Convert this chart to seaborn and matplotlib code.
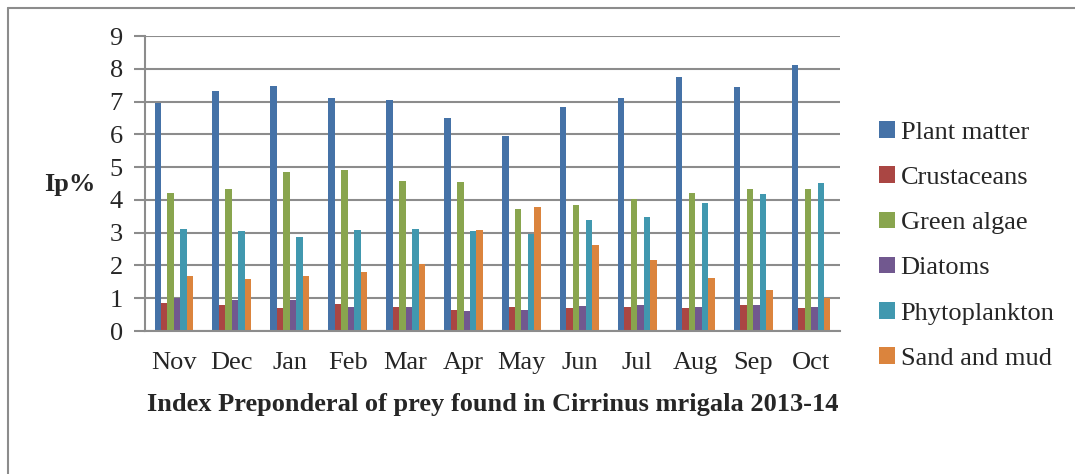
import matplotlib
matplotlib.use("Agg")
import matplotlib.pyplot as plt
import matplotlib.lines as mlines
import seaborn as sns
import pandas as pd

months = ["Nov", "Dec", "Jan", "Feb", "Mar", "Apr", "May", "Jun", "Jul", "Aug", "Sep", "Oct"]
series_names = ["Plant matter", "Crustaceans", "Green algae", "Diatoms", "Phytoplankton", "Sand and mud"]
plant_matter = [6.95, 7.32, 7.48, 7.11, 7.05, 6.49, 5.94, 6.83, 7.12, 7.74, 7.44, 8.11]
crustaceans = [0.84, 0.79, 0.70, 0.81, 0.72, 0.63, 0.74, 0.71, 0.72, 0.71, 0.78, 0.69]
green_algae = [4.21, 4.34, 4.84, 4.90, 4.57, 4.54, 3.72, 3.83, 4.04, 4.21, 4.33, 4.34]
diatoms = [1.01, 0.96, 0.96, 0.74, 0.72, 0.60, 0.65, 0.75, 0.78, 0.74, 0.78, 0.73]
phytoplankton = [3.12, 3.06, 2.88, 3.07, 3.12, 3.06, 2.95, 3.38, 3.49, 3.92, 4.19, 4.51]
sand_mud = [1.67, 1.60, 1.67, 1.80, 2.03, 3.09, 3.78, 2.61, 2.16, 1.62, 1.26, 1.02]
colors = ["#4572A7", "#AA4643", "#89A54E", "#71588F", "#4198AF", "#DB843D"]

all_vals = [plant_matter, crustaceans, green_algae, diatoms, phytoplankton, sand_mud]
rows = []
for name, vals in zip(series_names, all_vals):
    for m, v in zip(months, vals):
        rows.append({"Month": m, "Series": name, "Value": v})
df = pd.DataFrame(rows)

sns.set_style("white")
plt.rcParams['font.family'] = ['Liberation Serif', 'DejaVu Serif']

fig = plt.figure(figsize=(10.75, 4.74), dpi=100)
ax = fig.add_axes([145/1075, 1-331/474, (840-145)/1075, (331-36)/474])

sns.barplot(data=df, x="Month", y="Value", hue="Series", order=months,
            hue_order=series_names, palette=colors, width=0.67, gap=0,
            linewidth=0, saturation=1, ax=ax, legend=True)

ax.set_ylim(0, 9)
ax.set_yticks(range(0, 10))
ax.set_xlim(-0.5, len(months) - 0.5)
ax.yaxis.grid(True, color="#8c8c8c", linewidth=1.5)
ax.set_axisbelow(True)
for s in ["top", "right"]:
    ax.spines[s].set_visible(False)
ax.spines["left"].set_color("#8c8c8c")
ax.spines["left"].set_linewidth(1.5)
ax.spines["bottom"].set_color("#8c8c8c")
ax.spines["bottom"].set_linewidth(1.5)
ax.tick_params(axis="y", which="both", direction="out", length=8, width=1.5,
               color="#8c8c8c", labelsize=19, pad=8, left=True)
ax.tick_params(axis="x", length=0, labelsize=19, pad=15)
ax.set_xlabel("Index Preponderal of prey found in Cirrinus mrigala 2013-14",
              fontsize=19, fontweight="bold", labelpad=14)
ax.set_ylabel("")
fig.text(70/1075, 1-185/474, "Ip%", fontsize=19, fontweight="bold",
         ha="center", va="center")

handles, labels = ax.get_legend_handles_labels()
ax.legend(handles, labels, loc="center left", bbox_to_anchor=(879/1075, 1-245.5/474),
          bbox_transform=fig.transFigure, frameon=False, fontsize=19,
          handlelength=0.6, handleheight=0.6, handletextpad=0.22,
          labelspacing=0.85, borderaxespad=0, borderpad=0)

# outer frame (top and left edges visible)
fig.add_artist(mlines.Line2D([8/1075, 1.0], [1-7.5/474, 1-7.5/474],
                             transform=fig.transFigure, color="#8c8c8c", linewidth=1.5))
fig.add_artist(mlines.Line2D([8/1075, 8/1075], [0, 1-7.5/474],
                             transform=fig.transFigure, color="#8c8c8c", linewidth=1.5))

fig.savefig("out.png", dpi=100)
